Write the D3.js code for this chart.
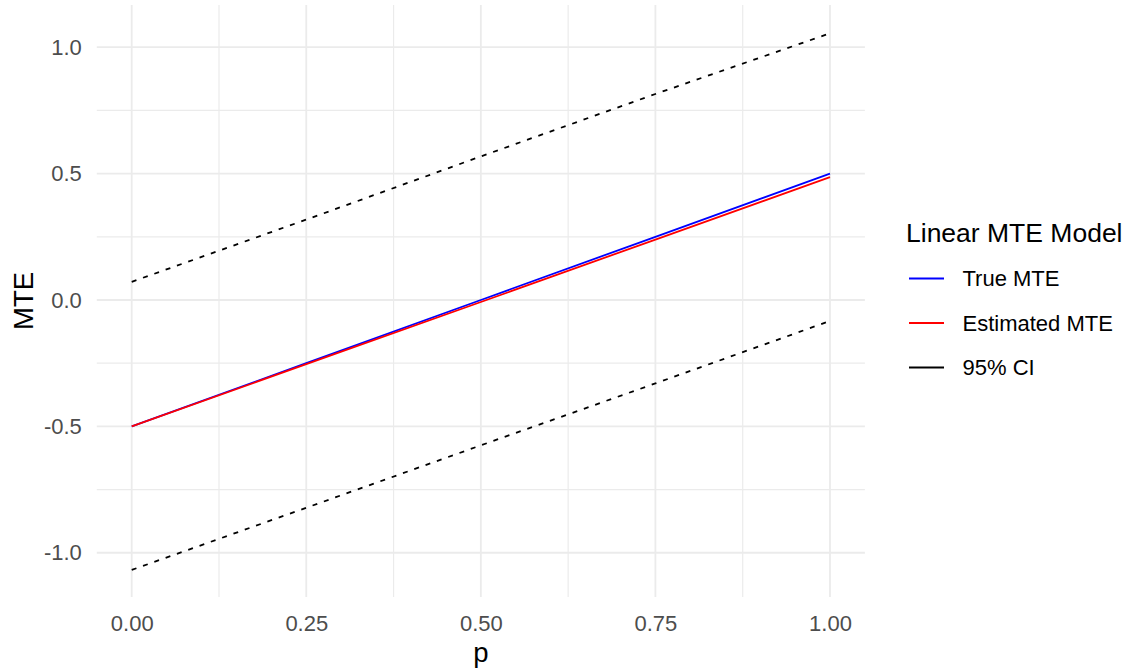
<!DOCTYPE html>
<html>
<head>
<meta charset="utf-8">
<script src="https://cdn.jsdelivr.net/npm/d3@7"></script>
<style>
  body { margin: 0; background: #fff; }
  svg { font-family: "Liberation Sans", Arial, sans-serif; }
</style>
</head>
<body>
<svg width="1133" height="671"></svg>
<script>
'use strict';

// data
const P_VALUES = [0, 0.25, 0.5, 0.75, 1];
const TRUE_MTE = [-0.5, -0.25, 0, 0.25, 0.5];
const EST_MTE = [-0.5, -0.254, -0.008, 0.239, 0.486];
const CI_UPPER = [0.072, 0.318, 0.568, 0.815, 1.055];
const CI_LOWER = [-1.068, -0.822, -0.575, -0.330, -0.083];

const X_TICKS = [0, 0.25, 0.5, 0.75, 1];
const X_MINOR = [0.125, 0.375, 0.625, 0.875];
const Y_TICKS = [-1, -0.5, 0, 0.5, 1];
const Y_MINOR = [-0.75, -0.25, 0.25, 0.75];

const LEGEND_TITLE = "Linear MTE Model";
const LEGEND_LABELS = ["True MTE", "Estimated MTE", "95% CI"];
const LEGEND_COLORS = ["#0000ff", "#ff0000", "#000000"];

const PANEL = { left: 96.8, right: 864.9, top: 5, bottom: 597 };
const LINE_W = 1.8;

const svg = d3.select("svg");

const x = d3.scaleLinear().domain([-0.05, 1.05]).range([PANEL.left, PANEL.right]);
const y = d3.scaleLinear().domain([-1.175, 1.167]).range([PANEL.bottom, PANEL.top]);

const grid = svg.append("g");

// minor grid
grid.selectAll(".vminor").data(X_MINOR).enter().append("line")
   .attr("x1", d => x(d)).attr("x2", d => x(d))
   .attr("y1", PANEL.top).attr("y2", PANEL.bottom)
   .attr("stroke", "#ebebeb").attr("stroke-width", 1.2);
grid.selectAll(".hminor").data(Y_MINOR).enter().append("line")
   .attr("y1", d => y(d)).attr("y2", d => y(d))
   .attr("x1", PANEL.left).attr("x2", PANEL.right)
   .attr("stroke", "#ebebeb").attr("stroke-width", 1.2);

// major grid
grid.selectAll(".vmajor").data(X_TICKS).enter().append("line")
   .attr("x1", d => x(d)).attr("x2", d => x(d))
   .attr("y1", PANEL.top).attr("y2", PANEL.bottom)
   .attr("stroke", "#ebebeb").attr("stroke-width", 1.8);
grid.selectAll(".hmajor").data(Y_TICKS).enter().append("line")
   .attr("y1", d => y(d)).attr("y2", d => y(d))
   .attr("x1", PANEL.left).attr("x2", PANEL.right)
   .attr("stroke", "#ebebeb").attr("stroke-width", 1.8);

// axes (labels only, no domain/ticks like theme_minimal)
const axisX = svg.append("g")
   .attr("transform", `translate(0,${PANEL.bottom})`)
   .call(d3.axisBottom(x).tickValues(X_TICKS).tickFormat(d3.format(".2f")).tickSize(0).tickPadding(18));
const axisY = svg.append("g")
   .attr("transform", `translate(${PANEL.left},0)`)
   .call(d3.axisLeft(y).tickValues(Y_TICKS).tickFormat(d => d3.format(".1f")(d).replace("−", "-")).tickSize(0).tickPadding(15));

[axisX, axisY].forEach(a => {
   a.select(".domain").remove();
   a.selectAll("text").attr("fill", "#4d4d4d").style("font-size", "22px")
      .style("font-family", "'Liberation Sans', Arial, sans-serif");
});

// axis titles
svg.append("text")
   .attr("x", x(0.5)).attr("y", 662)
   .attr("text-anchor", "middle")
   .style("font-size", "27.5px")
   .text("p");
svg.append("text")
   .attr("transform", `translate(33,${(PANEL.top + PANEL.bottom) / 2}) rotate(-90)`)
   .attr("text-anchor", "middle")
   .style("font-size", "27.5px")
   .text("MTE");

// lines
const line = d3.line().x(d => x(d[0])).y(d => y(d[1]));
const series = (vals) => P_VALUES.map((p, i) => [p, vals[i]]);

const lines = svg.append("g").attr("fill", "none");
[CI_UPPER, CI_LOWER].forEach(vals => {
   lines.append("path")
      .attr("d", line(series(vals)))
      .attr("stroke", "#000")
      .attr("stroke-width", LINE_W)
      .attr("stroke-dasharray", "5,7");
});
lines.append("path")
   .attr("d", line(series(TRUE_MTE)))
   .attr("stroke", LEGEND_COLORS[0])
   .attr("stroke-width", LINE_W);
lines.append("path")
   .attr("d", line(series(EST_MTE)))
   .attr("stroke", LEGEND_COLORS[1])
   .attr("stroke-width", LINE_W);

// legend
const legend = svg.append("g").attr("id", "legend");
legend.append("text")
   .attr("x", 906).attr("y", 241.5)
   .style("font-size", "26.5px")
   .text(LEGEND_TITLE);

const keys = legend.selectAll(".key").data(LEGEND_LABELS).enter().append("g")
   .attr("transform", (d, i) => `translate(0,${278.5 + i * 44.5})`);
keys.append("line")
   .attr("x1", 909).attr("x2", 944)
   .attr("stroke", (d, i) => LEGEND_COLORS[i])
   .attr("stroke-width", LINE_W);
keys.append("text")
   .attr("x", 962.5).attr("y", 0)
   .attr("dy", "0.35em")
   .style("font-size", "22px")
   .text(d => d);
</script>
</body>
</html>
